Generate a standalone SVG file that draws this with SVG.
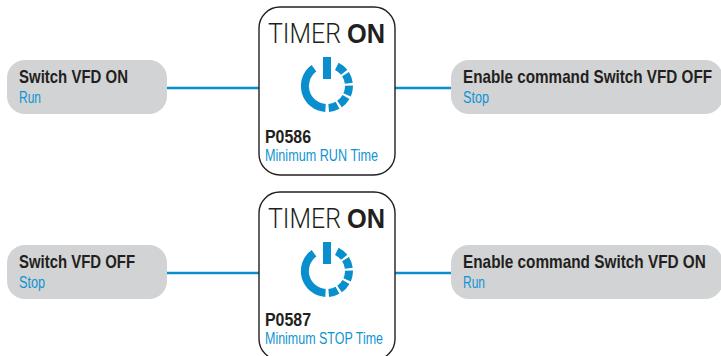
<svg xmlns="http://www.w3.org/2000/svg" width="721" height="356" viewBox="0 0 721 356">
<style>
text{font-family:"Liberation Sans",Arial,sans-serif}
.pill{fill:#d1d3d4}
.box{fill:#fff;stroke:#231f20;stroke-width:1.4}
.b{font-size:17.5px;font-weight:700;fill:#231f20}
.s{font-size:16px;fill:#0f94d2}
.t{font-family:Roboto,"Liberation Sans",sans-serif;font-size:27px;font-weight:300;fill:#231f20}
.tb{font-family:"Liberation Sans",Arial,sans-serif;font-weight:700}
.line{stroke:#0a8fce;stroke-width:2.6;fill:none}
.ring{fill:none;stroke:#0a8fce;stroke-width:8}
.bar{fill:#0a8fce}
</style>
<defs>
<g id="power">
<rect class="bar" x="323" y="57" width="8" height="22"/>
<path class="ring" d="M314 68.2A22 22 0 0 0 325.5 108"/>
<path class="ring" stroke-dasharray="9.6 2.3" d="M336.8 66.3A22 22 0 0 1 328.7 107.9"/>
</g>
</defs>
<g id="connectors">
<line class="line" x1="167" y1="88" x2="259" y2="88"/>
<line class="line" x1="395" y1="88" x2="451" y2="88"/>
<line class="line" x1="167" y1="273" x2="259" y2="273"/>
<line class="line" x1="395" y1="273" x2="451" y2="273"/>
</g>
<g id="n1"><rect class="pill" x="7" y="60" width="160" height="54" rx="18"/>
<text class="b" x="19" y="83" textLength="109" lengthAdjust="spacingAndGlyphs">Switch VFD ON</text>
<text class="s" x="19" y="103" textLength="22" lengthAdjust="spacingAndGlyphs">Run</text></g>
<g id="n2"><rect class="box" x="259" y="7" width="136" height="168" rx="21"/>
<text class="t" x="268" y="43" textLength="73" lengthAdjust="spacingAndGlyphs">TIMER</text>
<text class="t tb" x="347" y="43" textLength="38" lengthAdjust="spacingAndGlyphs">ON</text>
<use href="#power"/>
<text class="b" x="265" y="142.5" textLength="46" lengthAdjust="spacingAndGlyphs">P0586</text>
<text class="s" x="265" y="160.5" textLength="113" lengthAdjust="spacingAndGlyphs">Minimum RUN Time</text></g>
<g id="n3"><rect class="pill" x="451" y="60" width="272" height="54" rx="18"/>
<text class="b" transform="translate(463 83) scale(.877 1)" textLength="284" lengthAdjust="spacingAndGlyphs">Enable command Switch VFD OFF</text>
<text class="s" x="463" y="103" textLength="26" lengthAdjust="spacingAndGlyphs">Stop</text></g>
<g id="n4"><rect class="pill" x="7" y="245" width="160" height="54" rx="18"/>
<text class="b" x="19" y="268" textLength="116" lengthAdjust="spacingAndGlyphs">Switch VFD OFF</text>
<text class="s" x="19" y="288" textLength="26" lengthAdjust="spacingAndGlyphs">Stop</text></g>
<g id="n5"><rect class="box" x="259" y="192" width="136" height="168" rx="21"/>
<text class="t" x="268" y="228" textLength="73" lengthAdjust="spacingAndGlyphs">TIMER</text>
<text class="t tb" x="347" y="228" textLength="38" lengthAdjust="spacingAndGlyphs">ON</text>
<use href="#power" y="185"/>
<text class="b" x="265" y="325.5" textLength="46" lengthAdjust="spacingAndGlyphs">P0587</text>
<text class="s" x="265" y="344" textLength="118" lengthAdjust="spacingAndGlyphs">Minimum STOP Time</text></g>
<g id="n6"><rect class="pill" x="451" y="245" width="272" height="54" rx="18"/>
<text class="b" transform="translate(463 268) scale(.88 1)" textLength="276" lengthAdjust="spacingAndGlyphs">Enable command Switch VFD ON</text>
<text class="s" x="463" y="288" textLength="22" lengthAdjust="spacingAndGlyphs">Run</text></g>
</svg>
